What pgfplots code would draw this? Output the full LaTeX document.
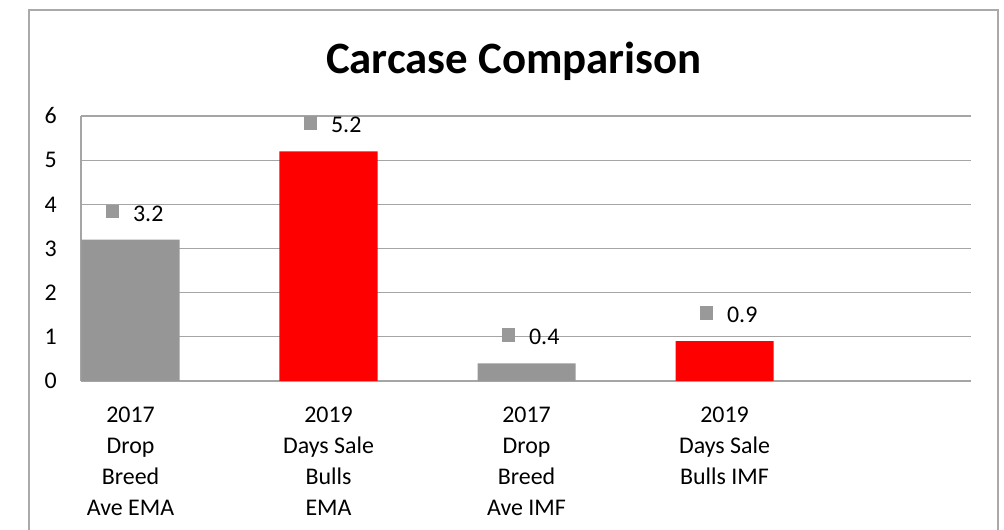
\documentclass[border=0pt]{standalone}
\usepackage{fontspec}
\setmainfont{Carlito}
\usepackage{pgfplots}
\pgfplotsset{compat=1.18}
\definecolor{bargray}{RGB}{150,150,150}
\definecolor{gridgray}{RGB}{165,165,165}
\definecolor{framegray}{RGB}{170,170,170}
\definecolor{labgray}{RGB}{153,153,153}
\definecolor{barred}{RGB}{255,0,0}
\begin{document}
\begin{tikzpicture}[x=1bp,y=1bp]
\useasboundingbox (0,0) rectangle (1004,530);
\draw[framegray, line width=1.6bp] (29,-20) -- (29,520) -- (998,520) -- (998,-20);
\begin{axis}[
  at={(81bp,149bp)}, anchor=south west,
  scale only axis, width=890bp, height=265bp,
  xmin=-0.25, xmax=4.245,
  ymin=0, ymax=6,
  ytick={0,1,2,3,4,5,6},
  xtick={0,1,2,3},
  xticklabels={{2017\\Drop\\Breed\\Ave EMA},{2019\\Days Sale\\Bulls\\EMA},{2017\\Drop\\Breed\\Ave IMF},{2019\\Days Sale\\Bulls IMF}},
  major tick length=0pt,
  axis lines=left,
  axis line style={-, draw=gridgray, line width=1.2bp},
  ymajorgrids,
  grid style={draw=gridgray, line width=1.2bp},
  /pgf/number format/assume math mode=true,
  ticklabel style={font=\fontsize{24}{31}\selectfont},
  yticklabel style={anchor=east, inner sep=0pt, xshift=-24bp},
  xticklabel style={anchor=north, inner sep=0pt, yshift=-26bp, align=center},
  title={Carcase Comparison},
  title style={at={(0.4865,1.1634)}, anchor=base, inner sep=0pt, yshift=-7bp, font=\bfseries\fontsize{45}{50}\selectfont},
  ybar, bar width=0.495, bar shift=0pt,
  nodes near coords={\textcolor{labgray}{\raisebox{3bp}{\rule{13.5bp}{13.5bp}}}\hspace{14bp}\pgfmathprintnumber[fixed,precision=1,zerofill]{\pgfplotspointmeta}},
  nodes near coords style={font=\fontsize{24}{31}\selectfont, anchor=south, inner sep=0pt, yshift=18bp, xshift=4bp, text=black},
  clip=false,
]
\addplot[draw=none, fill=bargray] coordinates {(0,3.2) (2,0.4)};
\addplot[draw=none, fill=barred] coordinates {(1,5.2) (3,0.9)};
\end{axis}
\end{tikzpicture}
\end{document}
